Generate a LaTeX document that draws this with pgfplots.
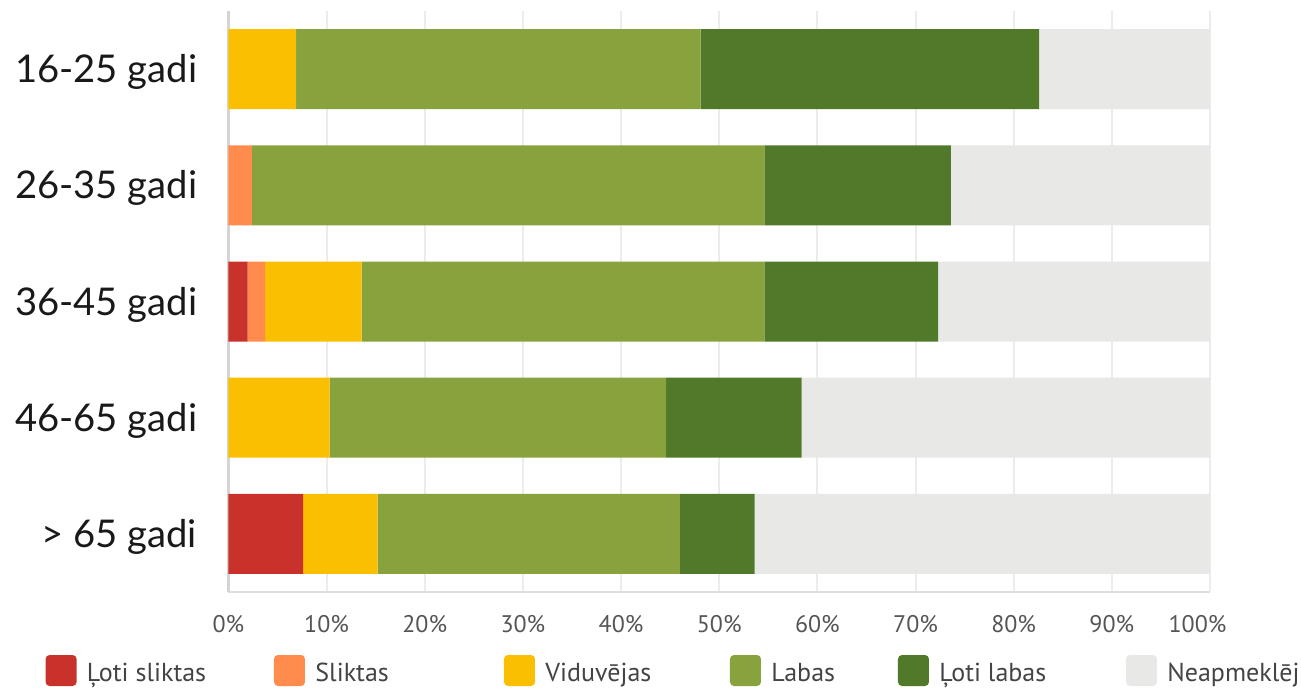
\documentclass[border=0pt]{standalone}
\usepackage{fontspec}
\usepackage{pgfplots}
\pgfplotsset{compat=1.18}
\newfontfamily\ylfont{Lato}
\newfontfamily\tkfont{PT Sans}
\definecolor{cA}{RGB}{200,50,43}
\definecolor{cB}{RGB}{255,139,77}
\definecolor{cC}{RGB}{250,191,0}
\definecolor{cD}{RGB}{136,162,61}
\definecolor{cE}{RGB}{80,122,41}
\definecolor{cF}{RGB}{232,232,230}
\definecolor{gridc}{RGB}{236,236,236}
\definecolor{axleft}{RGB}{212,212,212}
\definecolor{axbot}{RGB}{222,222,222}
\definecolor{tickc}{RGB}{85,85,85}
\definecolor{legc}{RGB}{68,68,68}
\newcommand\legtext[2]{\makebox[#1][l]{\hspace{5.2pt}\raisebox{0pt}[12.5pt][0pt]{#2}}}
\begin{document}
\begin{tikzpicture}
\useasboundingbox (0,0) rectangle (650.5pt,345.5pt);
\begin{axis}[
  at={(114.2pt,49.5pt)}, anchor=south west,
  scale only axis, width=490.8pt, height=290.5pt,
  xbar stacked, bar width=40pt,
  xmin=0, xmax=100, ymin=-0.5, ymax=4.5,
  axis x line*=bottom, axis y line*=left,
  x axis line style={draw=axbot, line width=1pt},
  y axis line style={draw=axleft, line width=1.5pt},
  xtick={0,10,20,30,40,50,60,70,80,90},
  xticklabels={0\%,10\%,20\%,30\%,40\%,50\%,60\%,70\%,80\%,90\%},
  extra x ticks={100}, extra x tick labels={100\%},
  extra x tick style={grid=major, xticklabel style={xshift=-6.25pt}},
  xmajorgrids, major grid style={draw=gridc, line width=1pt},
  ytick={0,1,2,3,4},
  yticklabels={{> 65 gadi},{46-65 gadi},{36-45 gadi},{26-35 gadi},{16-25 gadi}},
  major tick length=0pt,
  xticklabel style={font=\tkfont\fontsize{12}{12}\selectfont, text=tickc, anchor=base, inner sep=0pt, yshift=-20pt},
  yticklabel style={font=\ylfont\fontsize{19.1}{20}\selectfont, text=black!90, anchor=base east, inner sep=0pt, xshift=-15.4pt, yshift=-6.8pt},
  every axis plot post/.append style={draw=none,
    legend image code/.code={\fill[##1, draw=none, rounded corners=2pt] (0pt,-7.75pt) rectangle (15.5pt,7.75pt);}},
  legend columns=-1,
  legend style={at={(rel axis cs:0,0)}, anchor=west, xshift=-91.4pt, yshift=-39.25pt,
    draw=none, fill=none, inner sep=0pt, outer sep=0pt, column sep=0pt,
    nodes={inner sep=0pt, outer sep=0pt},
    font=\tkfont\fontsize{13}{13}\selectfont, text=legc},
  legend cell align=left,
]
\addplot[fill=cA] coordinates {(7.6,0) (0,1) (1.95,2) (0,3) (0,4)};
\addplot[fill=cB] coordinates {(0,0) (0,1) (1.8,2) (2.4,3) (0,4)};
\addplot[fill=cC] coordinates {(7.6,0) (10.3,1) (9.82,2) (0,3) (6.9,4)};
\addplot[fill=cD] coordinates {(30.8,0) (34.3,1) (41.03,2) (52.2,3) (41.2,4)};
\addplot[fill=cE] coordinates {(7.6,0) (13.8,1) (17.7,2) (19.0,3) (34.5,4)};
\addplot[fill=cF] coordinates {(46.4,0) (41.6,1) (27.7,2) (26.4,3) (17.4,4)};
\legend{\legtext{98.7pt}{Ļoti sliktas},\legtext{99.5pt}{Sliktas},\legtext{97.5pt}{Viduvējas},\legtext{68.5pt}{Labas},\legtext{98.5pt}{Ļoti labas},\legtext{100pt}{Neapmeklēju}}
\end{axis}
\end{tikzpicture}
\end{document}
